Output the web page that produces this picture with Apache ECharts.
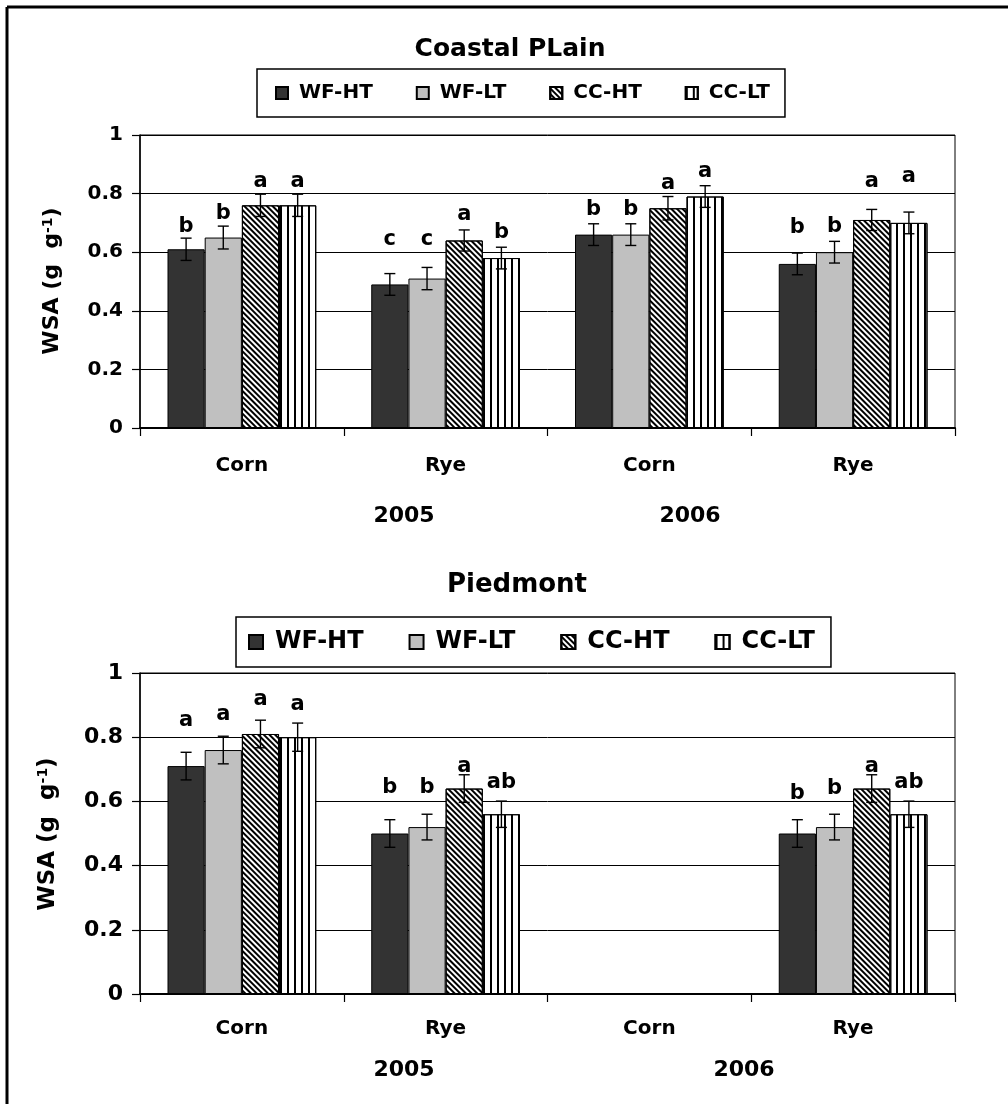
<!DOCTYPE html>
<html><head><meta charset="utf-8">
<script src="https://cdn.jsdelivr.net/npm/echarts@6/dist/echarts.min.js"></script>
<style>html,body{margin:0;padding:0;background:#fff}#c{width:1008px;height:1104px}</style>
</head><body><div id="c"></div>
<script>
// ---------- data ----------
const categories = ['Corn', 'Rye', 'Corn', 'Rye'];
const treatments = ['WF-HT', 'WF-LT', 'CC-HT', 'CC-LT'];
const yTicks = [0, 0.2, 0.4, 0.6, 0.8, 1];

// Coastal Plain (2005 Corn, 2005 Rye, 2006 Corn, 2006 Rye)
const cpWFHT = [0.61, 0.49, 0.66, 0.56];
const cpWFLT = [0.65, 0.51, 0.66, 0.60];
const cpCCHT = [0.76, 0.64, 0.75, 0.71];
const cpCCLT = [0.76, 0.58, 0.79, 0.70];
const cpErrWFHT = [0.038, 0.037, 0.037, 0.037];
const cpErrWFLT = [0.039, 0.038, 0.037, 0.037];
const cpErrCCHT = [0.038, 0.036, 0.040, 0.036];
const cpErrCCLT = [0.038, 0.037, 0.037, 0.037];
const cpLetWFHT = ['b', 'c', 'b', 'b'];
const cpLetWFLT = ['b', 'c', 'b', 'b'];
const cpLetCCHT = ['a', 'a', 'a', 'a'];
const cpLetCCLT = ['a', 'b', 'a', 'a'];
const cpLetAtWFHT = [0.689, 0.642, 0.744, 0.683];
const cpLetAtWFLT = [0.733, 0.642, 0.744, 0.687];
const cpLetAtCCHT = [0.840, 0.727, 0.836, 0.840];
const cpLetAtCCLT = [0.840, 0.666, 0.875, 0.858];

// Piedmont (2006 Corn not measured)
const pdWFHT = [0.71, 0.50, null, 0.50];
const pdWFLT = [0.76, 0.52, null, 0.52];
const pdCCHT = [0.81, 0.64, null, 0.64];
const pdCCLT = [0.80, 0.56, null, 0.56];
const pdErrWFHT = [0.043, 0.043, null, 0.043];
const pdErrWFLT = [0.043, 0.040, null, 0.040];
const pdErrCCHT = [0.043, 0.043, null, 0.043];
const pdErrCCLT = [0.044, 0.041, null, 0.041];
const pdLetWFHT = ['a', 'b', '', 'b'];
const pdLetWFLT = ['a', 'b', '', 'b'];
const pdLetCCHT = ['a', 'a', '', 'a'];
const pdLetCCLT = ['a', 'ab', '', 'ab'];
const pdLetAtWFHT = [0.851, 0.643, null, 0.625];
const pdLetAtWFLT = [0.871, 0.643, null, 0.641];
const pdLetAtCCHT = [0.916, 0.708, null, 0.708];
const pdLetAtCCLT = [0.902, 0.660, null, 0.658];

const yearLabels = ['2005', '2006'];

// ---------- styling ----------
const FONT = 'DejaVu Sans';
const GAP = 0.27;
const barStyles = [
  { color: '#333333' },
  { color: '#c0c0c0' },
  { color: '#ffffff', decal: { symbol: 'rect', symbolSize: 1, dashArrayX: [1, 0], dashArrayY: [2, 2], rotation: Math.PI / 4, color: '#000' } },
  { color: '#ffffff', decal: { symbol: 'rect', symbolSize: 1, dashArrayX: [2, 5], dashArrayY: [4, 0], rotation: 0, color: '#000' } }
];

function barSeries(i, data, gi) {
  return {
    type: 'bar', name: treatments[i], xAxisIndex: gi, yAxisIndex: gi, data: data,
    barGap: '0%', barCategoryGap: (GAP * 100) + '%',
    itemStyle: Object.assign({ borderColor: '#000', borderWidth: 1 }, barStyles[i]),
    emphasis: { disabled: true }, animation: false, z: 3
  };
}

function annoSeries(gi, vals, errs, lets, ats, fontSize) {
  const rows = [];
  for (let i = 0; i < 4; i++) {
    for (let c = 0; c < categories.length; c++) {
      if (vals[i][c] == null) continue;
      rows.push({ cat: c, idx: i, val: vals[i][c], err: errs[i][c], letter: lets[i][c], at: ats[i][c] });
    }
  }
  return {
    type: 'custom', xAxisIndex: gi, yAxisIndex: gi, z: 10, silent: true, animation: false,
    data: rows.map(r => [r.cat, r.val + r.err]),
    renderItem: function (params, api) {
      const r = rows[params.dataIndex];
      const band = api.size([1, 0])[0];
      const bw = band * (1 - GAP) / 4;
      const cx = api.coord([r.cat, 0])[0] + (r.idx - 1.5) * bw;
      const yT = api.coord([r.cat, r.val + r.err])[1];
      const yB = api.coord([r.cat, r.val - r.err])[1];
      const yL = api.coord([r.cat, r.at])[1];
      const h = 5.5;
      const ls = { stroke: '#000', lineWidth: 1.4 };
      return {
        type: 'group', children: [
          { type: 'line', shape: { x1: cx, y1: yT, x2: cx, y2: yB }, style: ls },
          { type: 'line', shape: { x1: cx - h, y1: yT, x2: cx + h, y2: yT }, style: ls },
          { type: 'line', shape: { x1: cx - h, y1: yB, x2: cx + h, y2: yB }, style: ls },
          { type: 'text', x: cx, y: yL, style: { text: r.letter, fill: '#000', font: 'bold ' + fontSize + 'px "' + FONT + '"', align: 'center', verticalAlign: 'middle' } }
        ]
      };
    }
  };
}

function xAxis(gi, fs, margin) {
  return {
    type: 'category', gridIndex: gi, data: categories,
    axisLine: { lineStyle: { color: '#000', width: 2 } },
    axisTick: { show: true, length: 8, lineStyle: { color: '#000', width: 1.2 } },
    axisLabel: { color: '#000', fontFamily: FONT, fontWeight: 'bold', fontSize: fs, margin: margin },
    splitLine: { show: false }
  };
}
function yAxis(gi, fs) {
  return {
    type: 'value', gridIndex: gi, min: yTicks[0], max: yTicks[yTicks.length - 1], interval: yTicks[1] - yTicks[0],
    axisLine: { show: true, lineStyle: { color: '#000', width: 1.5 } },
    axisTick: { show: true, length: 8, lineStyle: { color: '#000', width: 1.2 } },
    axisLabel: { color: '#000', fontFamily: FONT, fontWeight: 'bold', fontSize: fs, margin: 17 },
    splitLine: { show: true, lineStyle: { color: '#000', width: 1 } }
  };
}
function legend(left, top, fs, icon, pad, gap, tp) {
  return {
    data: treatments, left: left, top: top, orient: 'horizontal', icon: 'rect',
    itemWidth: icon, itemHeight: icon, itemGap: gap, selectedMode: false,
    borderColor: '#000', borderWidth: 1.5, backgroundColor: '#fff', padding: pad,
    textStyle: { color: '#000', fontFamily: FONT, fontWeight: 'bold', fontSize: fs, lineHeight: fs + 4, padding: [0, 0, 0, tp] }
  };
}
function yTitle(x, y, fs) {
  return {
    type: 'text', x: x, y: y, rotation: Math.PI / 2,
    style: {
      text: '{a|WSA (g  g}{s|-1}{a|)}', align: 'center', verticalAlign: 'middle',
      rich: {
        a: { fontFamily: FONT, fontWeight: 'bold', fontSize: fs, fill: '#000', color: '#000' },
        s: { fontFamily: FONT, fontWeight: 'bold', fontSize: Math.round(fs * 0.62), fill: '#000', color: '#000', verticalAlign: 'top' }
      }
    }
  };
}
function label(text, x, y, fs) {
  return { type: 'text', x: x, y: y, style: { text: text, fill: '#000', font: 'bold ' + fs + 'px "' + FONT + '"', align: 'center', verticalAlign: 'middle' } };
}

const option = {
  backgroundColor: '#fff',
  animation: false,
  grid: [
    { left: 140, right: 53, top: 135, height: 293, show: true, borderColor: '#000', borderWidth: 1, backgroundColor: 'transparent' },
    { left: 140, right: 53, top: 673, height: 321, show: true, borderColor: '#000', borderWidth: 1, backgroundColor: 'transparent' }
  ],
  xAxis: [xAxis(0, 20, 28), xAxis(1, 20, 25)],
  yAxis: [yAxis(0, 20), yAxis(1, 22)],
  legend: [
    legend(257, 69, 20, 12, [12, 15, 12, 18], 43, 6),
    legend(236, 617, 24, 14, [11, 16, 11, 12], 45, 7)
  ],
  series: [
    barSeries(0, cpWFHT, 0), barSeries(1, cpWFLT, 0), barSeries(2, cpCCHT, 0), barSeries(3, cpCCLT, 0),
    barSeries(0, pdWFHT, 1), barSeries(1, pdWFLT, 1), barSeries(2, pdCCHT, 1), barSeries(3, pdCCLT, 1),
    annoSeries(0, [cpWFHT, cpWFLT, cpCCHT, cpCCLT], [cpErrWFHT, cpErrWFLT, cpErrCCHT, cpErrCCLT],
      [cpLetWFHT, cpLetWFLT, cpLetCCHT, cpLetCCLT], [cpLetAtWFHT, cpLetAtWFLT, cpLetAtCCHT, cpLetAtCCLT], 21),
    annoSeries(1, [pdWFHT, pdWFLT, pdCCHT, pdCCLT], [pdErrWFHT, pdErrWFLT, pdErrCCHT, pdErrCCLT],
      [pdLetWFHT, pdLetWFLT, pdLetCCHT, pdLetCCLT], [pdLetAtWFHT, pdLetAtWFLT, pdLetAtCCHT, pdLetAtCCLT], 21)
  ],
  graphic: [
    { type: 'line', shape: { x1: 7, y1: 7, x2: 1008, y2: 7 }, style: { stroke: '#000', lineWidth: 3 } },
    { type: 'line', shape: { x1: 7, y1: 7, x2: 7, y2: 1104 }, style: { stroke: '#000', lineWidth: 3 } },
    label('Coastal PLain', 510, 49, 25),
    label('Piedmont', 517, 585, 26),
    yTitle(52, 281, 22),
    yTitle(48, 834, 23),
    label(yearLabels[0], 404, 516, 22),
    label(yearLabels[1], 690, 516, 22),
    label(yearLabels[0], 404, 1070, 22),
    label(yearLabels[1], 744, 1070, 22)
  ]
};
const chart = echarts.init(document.getElementById('c'), null, { renderer: 'canvas' });
chart.setOption(option);
</script>
</body></html>
